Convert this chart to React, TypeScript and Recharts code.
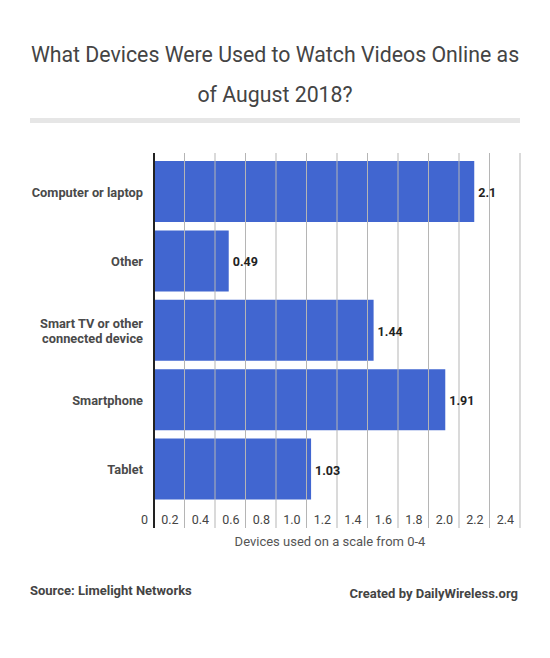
import React from "react";
import { BarChart, Bar, XAxis, YAxis, LabelList } from "recharts";

const categories = ["Computer or laptop", "Other", "Smart TV or other connected device", "Smartphone", "Tablet"];
const values = [2.1, 0.49, 1.44, 1.91, 1.03];
const xTicks = [0, 0.2, 0.4, 0.6, 0.8, 1.0, 1.2, 1.4, 1.6, 1.8, 2.0, 2.2, 2.4];

const labelLines: Record<string, string[]> = {
  "Smart TV or other connected device": ["Smart TV or other", "connected device"],
};

const W = 550;
const H = 658;
const TOP = 157;
const BOTTOM = 504;
const LEFT = 154;
const RIGHT = 520;
const FONT = "Roboto, 'Open Sans', sans-serif";

const data = categories.map((name, i) => ({ name, value: values[i] }));

const XTick = (props: any) => {
  const { x, payload } = props;
  const v = payload.value as number;
  const isZero = v === 0;
  return (
    <g>
      <line
        x1={x}
        x2={x}
        y1={TOP - 4}
        y2={BOTTOM + 24}
        stroke={isZero ? "#222" : "#b5b5b5"}
        strokeWidth={isZero ? 2 : 1}
      />
      <text x={x - 6} y={BOTTOM + 20} textAnchor="end" fontSize={12.5} fill="#444" fontFamily={FONT}>
        {v === 0 ? "0" : v.toFixed(1)}
      </text>
    </g>
  );
};

const YTick = (props: any) => {
  const { y, payload } = props;
  const lines = labelLines[payload.value] || [payload.value];
  const lh = 15;
  const start = y - ((lines.length - 1) * lh) / 2 + 5;
  return (
    <text textAnchor="end" fontSize={12.8} fontWeight="bold" fill="#4a4a4a" fontFamily={FONT}>
      {lines.map((l: string, i: number) => (
        <tspan key={i} x={143} y={start + i * lh}>
          {l}
        </tspan>
      ))}
    </text>
  );
};

export default function App() {
  return (
    <div style={{ position: "absolute", left: 0, top: 0, width: W, height: H, background: "#fff", fontFamily: FONT }}>
      <div
        style={{
          position: "absolute",
          left: 0,
          top: 35,
          width: W,
          textAlign: "center",
          fontSize: 21.3,
          lineHeight: "40px",
          color: "#444",
        }}
      >
        What Devices Were Used to Watch Videos Online as
        <br />
        of August 2018?
      </div>
      <div style={{ position: "absolute", left: 30, top: 118, width: 490, height: 5, background: "#e6e6e6" }} />
      <div style={{ position: "absolute", left: 0, top: 0 }}>
        <BarChart
          width={W}
          height={H}
          data={data}
          layout="vertical"
          margin={{ top: TOP, right: W - RIGHT, bottom: H - BOTTOM - 30, left: 0 }}
          barCategoryGap={4}
        >
          <XAxis
            type="number"
            domain={[0, 2.4]}
            ticks={xTicks}
            axisLine={false}
            tickLine={false}
            tick={<XTick />}
            height={30}
            interval={0}
          />
          <YAxis
            type="category"
            dataKey="name"
            width={LEFT}
            axisLine={false}
            tickLine={false}
            tick={<YTick />}
            interval={0}
          />
          <Bar dataKey="value" fill="#4166d0" isAnimationActive={false}>
            <LabelList
              dataKey="value"
              position="right"
              offset={4}
              dy={1}
              fontSize={12.5}
              fontWeight="bold"
              fill="#222"
              fontFamily={FONT}
            />
          </Bar>
        </BarChart>
      </div>
      <div
        style={{
          position: "absolute",
          left: 0,
          top: 534,
          width: W,
          paddingLeft: 110,
          boxSizing: "border-box",
          textAlign: "center",
          fontSize: 13,
          color: "#555",
        }}
      >
        Devices used on a scale from 0-4
      </div>
      <div style={{ position: "absolute", left: 30, top: 583, fontSize: 13, fontWeight: "bold", color: "#444" }}>
        Source: Limelight Networks
      </div>
      <div style={{ position: "absolute", right: 32, top: 586, fontSize: 13, fontWeight: "bold", color: "#444" }}>
        Created by DailyWireless.org
      </div>
    </div>
  );
}
